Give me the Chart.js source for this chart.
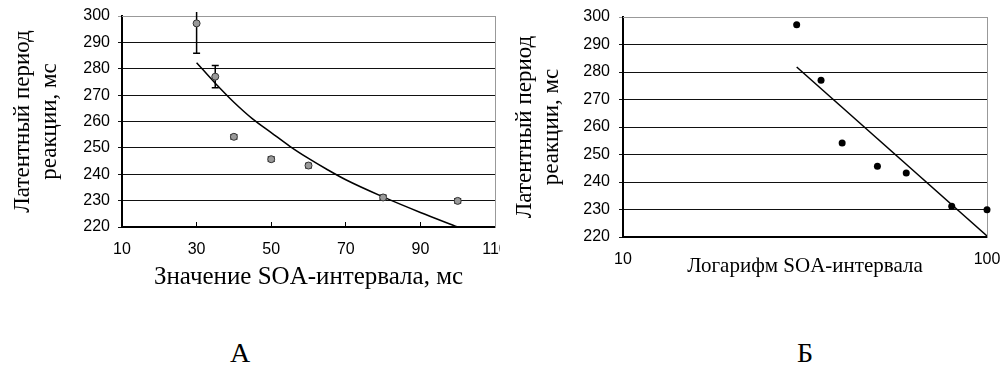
<!DOCTYPE html>
<html>
<head>
<meta charset="utf-8">
<script src="https://cdn.jsdelivr.net/npm/chart.js@4.4.1/dist/chart.umd.min.js"></script>
<style>
  body { margin: 0; background: #fff; width: 1002px; height: 365px; position: relative; overflow: hidden; }
  canvas { position: absolute; top: 0; }
  #chartA { left: 0; }
  #chartB { left: 500px; }
  .fig-label { position: absolute; top: 339px; width: 80px; text-align: center; color: #000;
    font: 28px/28px "Liberation Serif", "Times New Roman", serif; }
</style>
</head>
<body>
<canvas id="chartA" width="500" height="300"></canvas>
<canvas id="chartB" width="502" height="300"></canvas>
<div class="fig-label" style="left:200px">А</div>
<div class="fig-label" style="left:765px">Б</div>
<script>
// measured points (same for both panels)
const soaValues = [30, 35, 40, 50, 60, 80, 100];
const latencyValues = [297.2, 277.0, 254.2, 245.7, 243.3, 231.2, 229.9];
const latencyErrors = [11.3, 4.2, 0.8, 0.8, 0.8, 0.8, 0.8];

// trend curve
const trendSoa = [30, 35, 40, 45, 50, 55, 60, 65, 70, 80, 90, 100];
const trendLatency = [282.3, 274.5, 267.3, 261.0, 255.8, 250.6, 246.0, 241.8, 237.9, 231.4, 225.5, 220.0];

// trend line on panel B (straight on the log axis)
const logTrendSoa = [30, 100];
const logTrendLatency = [281.8, 220.4];

const xTicksA = [10, 30, 50, 70, 90, 110];
const xTicksB = [10, 100];
const yMin = 220;
const yMax = 300;

const serif = '"Liberation Serif", "Times New Roman", serif';
const sans = '"Liberation Sans", Arial, sans-serif';
const yTitle = ["Латентный период", "реакции, мс"];

function toXY(xs, ys) {
  return xs.map((x, i) => ({ x: x, y: ys[i] }));
}

// keep labels that stick out from shrinking the plot area
function noEdgePadding(s) {
  s.paddingLeft = 0;
  s.paddingRight = 0;
  s.paddingTop = 0;
  s.paddingBottom = 0;
}

// vertical error bars behind the points of dataset 0
const errorBars = {
  id: "errorBars",
  beforeDatasetsDraw(chart) {
    const meta = chart.getDatasetMeta(0);
    const yScale = chart.scales.y;
    const limit = chart.chartArea.top - 4;
    const ctx = chart.ctx;
    ctx.save();
    ctx.strokeStyle = "#000";
    ctx.lineWidth = 1.5;
    meta.data.forEach((pt, i) => {
      const v = latencyValues[i];
      const e = latencyErrors[i];
      const hiRaw = yScale.getPixelForValue(v + e);
      const hi = Math.max(hiRaw, limit);
      const lo = yScale.getPixelForValue(v - e);
      ctx.beginPath();
      ctx.moveTo(pt.x, hi);
      ctx.lineTo(pt.x, lo);
      if (hi === hiRaw) {
        ctx.moveTo(pt.x - 3.5, hi);
        ctx.lineTo(pt.x + 3.5, hi);
      }
      ctx.moveTo(pt.x - 3.5, lo);
      ctx.lineTo(pt.x + 3.5, lo);
      ctx.stroke();
    });
    ctx.restore();
  },
};

function yAxis(width, titlePad, tickPad) {
  return {
    min: yMin,
    max: yMax,
    afterFit: (s) => {
      s.width = width;
      noEdgePadding(s);
    },
    ticks: { stepSize: 10, color: "#000", padding: tickPad, font: { family: sans, size: 16 } },
    grid: {
      color: (c) => (c.tick && c.tick.value === yMax ? "#999" : "#111"),
      lineWidth: 1,
      tickLength: 4,
    },
    border: { color: "#000", width: 2 },
    title: {
      display: true,
      text: yTitle,
      color: "#000",
      padding: { top: titlePad, bottom: 0 },
      font: { family: serif, size: 23, lineHeight: 1.2 },
    },
  };
}

function frameAxes() {
  return {
    x2: {
      type: "linear",
      position: "top",
      afterFit: (s) => {
        s.height = 0;
        noEdgePadding(s);
      },
      ticks: { display: false },
      grid: { display: false, drawTicks: false },
      border: { color: "#999", width: 1 },
    },
    y2: {
      type: "linear",
      position: "right",
      afterFit: (s) => {
        s.width = 0;
        noEdgePadding(s);
      },
      ticks: { display: false },
      grid: { display: false, drawTicks: false },
      border: { color: "#999", width: 1 },
    },
  };
}

new Chart(document.getElementById("chartA"), {
  type: "scatter",
  data: {
    datasets: [
      {
        data: toXY(soaValues, latencyValues),
        backgroundColor: "#999",
        borderColor: "#333",
        borderWidth: 1,
        pointRadius: 3.5,
        clip: false,
      },
      {
        data: toXY(trendSoa, trendLatency),
        showLine: true,
        borderColor: "#000",
        borderWidth: 1.5,
        pointRadius: 0,
        cubicInterpolationMode: "monotone",
      },
    ],
  },
  options: {
    responsive: false,
    animation: false,
    layout: { padding: { top: 16, right: 5, left: 0, bottom: 0 } },
    scales: {
      x: {
        type: "linear",
        min: 10,
        max: 110,
        afterFit: (s) => {
          s.height = 73;
          noEdgePadding(s);
        },
        afterBuildTicks: (s) => { s.ticks = xTicksA.map((v) => ({ value: v })); },
        ticks: { color: "#000", padding: 18, font: { family: sans, size: 16 } },
        grid: { drawOnChartArea: false, color: "#000", tickLength: -5 },
        border: { color: "#000", width: 2 },
        title: {
          display: true,
          text: "Значение SOA-интервала, мс",
          color: "#000",
          padding: { top: 0, bottom: 8 },
          font: { family: serif, size: 25 },
        },
      },
      y: yAxis(122, 9, 8),
      ...frameAxes(),
    },
    plugins: { legend: { display: false }, tooltip: { enabled: false } },
  },
  plugins: [errorBars],
});

new Chart(document.getElementById("chartB"), {
  type: "scatter",
  data: {
    datasets: [
      {
        data: toXY(soaValues, latencyValues),
        backgroundColor: "#000",
        borderWidth: 0,
        pointRadius: 3.5,
        clip: false,
      },
      {
        data: toXY(logTrendSoa, logTrendLatency),
        showLine: true,
        borderColor: "#000",
        borderWidth: 1.5,
        pointRadius: 0,
      },
    ],
  },
  options: {
    responsive: false,
    animation: false,
    layout: { padding: { top: 17, right: 15, left: 0, bottom: 0 } },
    scales: {
      x: {
        type: "logarithmic",
        min: 10,
        max: 100,
        afterFit: (s) => {
          s.height = 63;
          noEdgePadding(s);
        },
        afterBuildTicks: (s) => { s.ticks = xTicksB.map((v) => ({ value: v })); },
        ticks: { color: "#000", padding: 13, font: { family: sans, size: 16 }, callback: (v) => String(v) },
        grid: { display: false, drawTicks: false },
        border: { color: "#000", width: 2 },
        title: {
          display: true,
          text: "Логарифм SOA-интервала",
          color: "#000",
          padding: { top: 0, bottom: 21 },
          font: { family: serif, size: 21 },
        },
      },
      y: yAxis(123, 11, 9),
      ...frameAxes(),
    },
    plugins: { legend: { display: false }, tooltip: { enabled: false } },
  },
});
</script>
</body>
</html>
